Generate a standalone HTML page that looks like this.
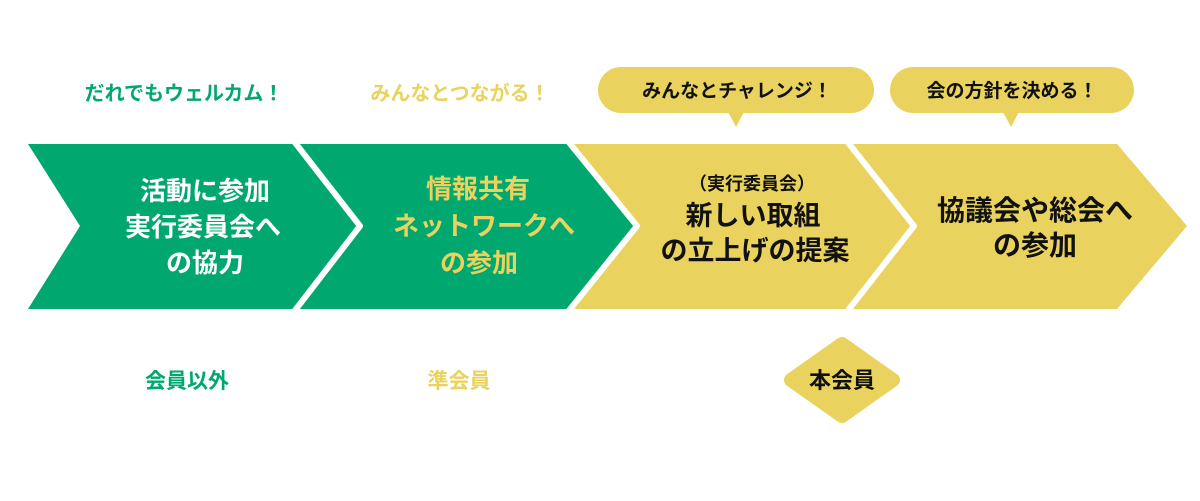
<!DOCTYPE html>
<html><head><meta charset="utf-8"><style>
body{margin:0;background:#fff;width:1200px;height:496px;overflow:hidden;font-family:"Liberation Sans","Noto Sans CJK JP",sans-serif;}
svg text{font-family:"Liberation Sans","Noto Sans CJK JP",sans-serif;font-weight:700;text-anchor:middle;}
</style></head><body>
<svg width="1200" height="496" viewBox="0 0 1200 496">
<path d="M840,144 L1117,144 L1187,226 L1117,309 L840,309 Z" fill="#e9d35e"/>
<path d="M560,144 L846,144 L912,226 L846,309 L560,309 Z" fill="#e9d35e"/>
<path d="M290,144 L567,144 L635,226 L567,309 L290,309 Z" fill="#00a870"/>
<path d="M28,144 L293,144 L358,226 L293,309 L28,309 L80,226 Z" fill="#00a870"/>
<g fill="none" stroke="#fff" stroke-width="6" stroke-linejoin="round">
<path d="M293,140 L360,226 L293,313"/>
<path d="M567,140 L637,226 L567,313"/>
<path d="M846,140 L914,226 L846,313"/>
</g>
<g font-size="26" fill="#fff">
<text x="205" y="200">活動に参加</text>
<text x="203" y="236">実行委員会へ</text>
<text x="205" y="272">の協力</text>
</g>
<g font-size="26" fill="#e9d35e">
<text x="478" y="198">情報共有</text>
<text x="484" y="235">ネットワークへ</text>
<text x="479" y="272">の参加</text>
</g>
<g fill="#111">
<text x="752" y="190" font-size="18">（実行委員会）</text>
<text x="753" y="225" font-size="27">新しい取組</text>
<text x="755" y="260" font-size="27">の立上げの提案</text>
<text x="1035" y="220" font-size="28">協議会や総会へ</text>
<text x="1035" y="255" font-size="28">の参加</text>
</g>
<text x="184" y="100" font-size="20" fill="#00a870">だれでもウェルカム！</text>
<text x="460" y="100" font-size="20" fill="#e9d35e">みんなとつながる！</text>
<rect x="598" y="67" width="276" height="46" rx="23" fill="#e9d35e"/>
<path d="M728,112 L744,112 L736,127 Z" fill="#e9d35e"/>
<text x="737" y="97" font-size="19" fill="#111">みんなとチャレンジ！</text>
<rect x="890" y="67" width="244" height="46" rx="23" fill="#e9d35e"/>
<path d="M1003,112 L1019,112 L1011,127 Z" fill="#e9d35e"/>
<text x="1012" y="97" font-size="19" fill="#111">会の方針を決める！</text>
<text x="187" y="388" font-size="21" fill="#00a870">会員以外</text>
<text x="459" y="388" font-size="21" fill="#e9d35e">準会員</text>
<path d="M842,344 L893,380 L842,416 L791,380 Z" fill="#e9d35e" stroke="#e9d35e" stroke-width="14" stroke-linejoin="round"/>
<text x="842" y="388" font-size="22" fill="#111">本会員</text>
</svg>
</body></html>
